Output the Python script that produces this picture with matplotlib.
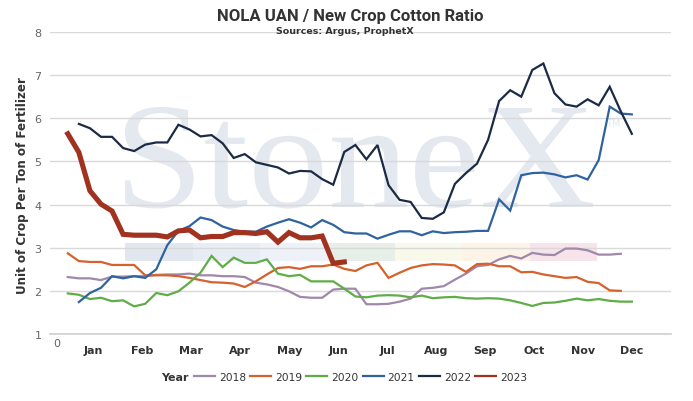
import matplotlib
matplotlib.use("Agg")
import matplotlib.pyplot as plt
from matplotlib.patches import Rectangle, PathPatch
from matplotlib.lines import Line2D
from matplotlib.textpath import TextPath
from matplotlib.font_manager import FontProperties
from matplotlib.transforms import blended_transform_factory, Affine2D

# ---------------- data ----------------
years = ["2018", "2019", "2020", "2021", "2022", "2023"]
colors = ["#a088ab", "#d5612c", "#5fad47", "#2f63a0", "#1b2b45", "#a0321f"]

weeks_2018 = list(range(1, 52))
ratio_2018 = [2.32, 2.29, 2.29, 2.25, 2.33, 2.33, 2.34, 2.34, 2.37, 2.38,
              2.38, 2.40, 2.36, 2.36, 2.34, 2.34, 2.32, 2.19, 2.15, 2.09,
              1.99, 1.86, 1.84, 1.84, 2.03, 2.05, 2.05, 1.69, 1.69, 1.70,
              1.75, 1.82, 2.05, 2.07, 2.11, 2.26, 2.40, 2.57, 2.60, 2.73,
              2.81, 2.75, 2.88, 2.84, 2.83, 2.98, 2.98, 2.94, 2.84, 2.84,
              2.86]

weeks_2019 = list(range(1, 52))
ratio_2019 = [2.87, 2.69, 2.67, 2.67, 2.60, 2.60, 2.60, 2.36, 2.36, 2.36,
              2.34, 2.30, 2.25, 2.20, 2.19, 2.17, 2.09, 2.22, 2.38, 2.53,
              2.55, 2.51, 2.57, 2.57, 2.61, 2.51, 2.46, 2.59, 2.65, 2.30,
              2.42, 2.53, 2.59, 2.62, 2.61, 2.59, 2.44, 2.62, 2.63, 2.57,
              2.57, 2.43, 2.44, 2.38, 2.34, 2.30, 2.32, 2.21, 2.18, 2.01,
              2.00]

weeks_2020 = list(range(1, 53))
ratio_2020 = [1.94, 1.91, 1.81, 1.84, 1.76, 1.78, 1.64, 1.70, 1.95, 1.90,
              1.99, 2.19, 2.42, 2.81, 2.55, 2.77, 2.65, 2.65, 2.73, 2.40,
              2.34, 2.37, 2.22, 2.22, 2.22, 2.05, 1.87, 1.85, 1.89, 1.90,
              1.89, 1.85, 1.89, 1.83, 1.85, 1.86, 1.83, 1.82, 1.83, 1.82,
              1.78, 1.72, 1.65, 1.72, 1.73, 1.77, 1.82, 1.78, 1.81, 1.77,
              1.75, 1.75]

weeks_2021 = list(range(2, 53))
ratio_2021 = [1.74, 1.95, 2.07, 2.34, 2.29, 2.34, 2.30, 2.50, 3.06, 3.39,
              3.50, 3.70, 3.64, 3.49, 3.41, 3.37, 3.37, 3.49, 3.58, 3.66,
              3.58, 3.47, 3.64, 3.53, 3.36, 3.33, 3.33, 3.21, 3.30, 3.38,
              3.38, 3.29, 3.38, 3.34, 3.36, 3.37, 3.39, 3.39, 4.12, 3.86,
              4.68, 4.73, 4.74, 4.70, 4.63, 4.68, 4.58, 5.03, 6.27, 6.11,
              6.09]

weeks_2022 = list(range(2, 53))
ratio_2022 = [5.87, 5.77, 5.57, 5.57, 5.31, 5.24, 5.39, 5.44, 5.44, 5.85,
              5.74, 5.58, 5.61, 5.42, 5.08, 5.17, 4.98, 4.92, 4.86, 4.72,
              4.78, 4.77, 4.59, 4.46, 5.22, 5.38, 5.05, 5.38, 4.45, 4.11,
              4.06, 3.69, 3.67, 3.82, 4.48, 4.73, 4.95, 5.50, 6.40, 6.65,
              6.50, 7.12, 7.27, 6.58, 6.32, 6.27, 6.44, 6.30, 6.73, 6.16,
              5.64]

weeks_2023 = list(range(1, 27))
ratio_2023 = [5.64, 5.21, 4.32, 4.01, 3.85, 3.31, 3.29, 3.29, 3.29, 3.25,
              3.39, 3.41, 3.23, 3.26, 3.26, 3.35, 3.35, 3.33, 3.37, 3.13,
              3.35, 3.23, 3.23, 3.27, 2.64, 2.67]

week_ticks = [0, 10, 20, 30, 40, 50]
months = ["Jan", "Feb", "Mar", "Apr", "May", "Jun",
          "Jul", "Aug", "Sep", "Oct", "Nov", "Dec"]
y_ticks = [1, 2, 3, 4, 5, 6, 7, 8]

title = "NOLA UAN / New Crop Cotton Ratio"
subtitle = "Sources: Argus, ProphetX"
ylabel = "Unit of Crop Per Ton of Fertilizer"

series_x = [weeks_2018, weeks_2019, weeks_2020, weeks_2021, weeks_2022, weeks_2023]
series_y = [ratio_2018, ratio_2019, ratio_2020, ratio_2021, ratio_2022, ratio_2023]

# ---------------- figure ----------------
W, H = 693, 402
fig = plt.figure(figsize=(W / 100, H / 100), dpi=100)
fig.patch.set_facecolor("white")
ax = fig.add_axes([50 / W, 1 - 335 / H, 621 / W, 302 / H])
ax.set_xlim(-0.61, 55.54)
ax.set_ylim(1, 8)

for s in ["top", "right", "left"]:
    ax.spines[s].set_visible(False)
ax.spines["bottom"].set_color("#cfcfcf")
ax.spines["bottom"].set_linewidth(1.2)

ax.set_axisbelow(True)
ax.grid(axis="y", color="#d9d9d9", linewidth=1.0)
ax.set_yticks(y_ticks)
ax.set_yticklabels([str(v) for v in y_ticks])
ax.tick_params(axis="y", length=0, pad=6, labelsize=8, labelcolor="#666666")
ax.set_xticks(week_ticks)
ax.set_xticklabels([str(v) for v in week_ticks])
ax.tick_params(axis="x", length=0, pad=3, labelsize=8, labelcolor="#666666")

# watermark (stretched to the reference's width)
wm_color = "#e4e8ef"
tp = TextPath((0, 0), "StoneX", size=1, prop=FontProperties(family="Liberation Serif"))
ext = tp.get_extents()
sy = 100 / 0.662
sx = (593 - 125) / ext.width
wm_tr = Affine2D().scale(sx, sy).translate(125 - ext.x0 * sx, H - 208)
ax.add_artist(PathPatch(tp, facecolor=wm_color, edgecolor="none",
                        transform=wm_tr, zorder=0.1, clip_on=False))
ax.text(49.7, 5.9, "TM", family="DejaVu Sans", fontsize=7,
        color=wm_color, ha="left", va="center", zorder=0.1)
bar_colors = ["#e2e6ee", "#e8ecf4", "#eef2f8", "#e6efe8",
              "#f8f9eb", "#fdf3e6", "#f6e4ea"]
seg_w = (48.85 - 6.18) / len(bar_colors)
for i, c in enumerate(bar_colors):
    ax.add_patch(Rectangle((6.18 + i * seg_w, 2.70), seg_w, 0.42,
                           facecolor=c, edgecolor="none", zorder=0.2))

# lines
for yr, xs, ys, c in zip(years, series_x, series_y, colors):
    lw = 3.7 if yr == "2023" else 1.6
    ax.plot(xs, ys, color=c, linewidth=lw, solid_joinstyle="miter",
            zorder=3 if yr == "2023" else 2)

# mask partially hiding week labels behind month labels
fig.patches.append(Rectangle((68 / W, 1 - 362 / H), (W - 68) / W, 23 / H,
                             transform=fig.transFigure, facecolor="white",
                             edgecolor="none", zorder=1))
trans = blended_transform_factory(ax.transData, fig.transFigure)
for i, m in enumerate(months):
    fig.text(3.3 + 4.43 * i, 1 - 351 / H, m, transform=trans, ha="center",
             va="center", fontsize=8, fontweight="bold", color="#333333",
             zorder=2)

# titles
fig.text(350 / W, 1 - 16 / H, title, ha="center", va="center",
         family="Roboto", fontsize=12, fontweight="bold", color="#333333")
fig.text(345 / W, 1 - 32 / H, subtitle, ha="center", va="center",
         family="DejaVu Sans", fontsize=6.8, fontweight="bold", color="#333333")
fig.text(23 / W, 1 - 186 / H, ylabel, ha="center", va="center", rotation=90,
         family="DejaVu Sans", fontsize=8.6, fontweight="bold", color="#333333")

# legend
fig.text(175 / W, 1 - 378 / H, "Year", ha="center", va="center",
         fontsize=8, fontweight="bold", color="#333333")
handles = [Line2D([0], [0], color=c, linewidth=1.6) for c in colors]
leg = fig.legend(handles, years, loc="center left",
                 bbox_to_anchor=(194 / W, 1 - 378 / H), ncol=6, frameon=False,
                 fontsize=7.7, handlelength=1.95, handletextpad=0.37,
                 columnspacing=0.4, borderpad=0, borderaxespad=0)
for t in leg.get_texts():
    t.set_color("#333333")

fig.savefig("out.png", dpi=100, facecolor="white")
